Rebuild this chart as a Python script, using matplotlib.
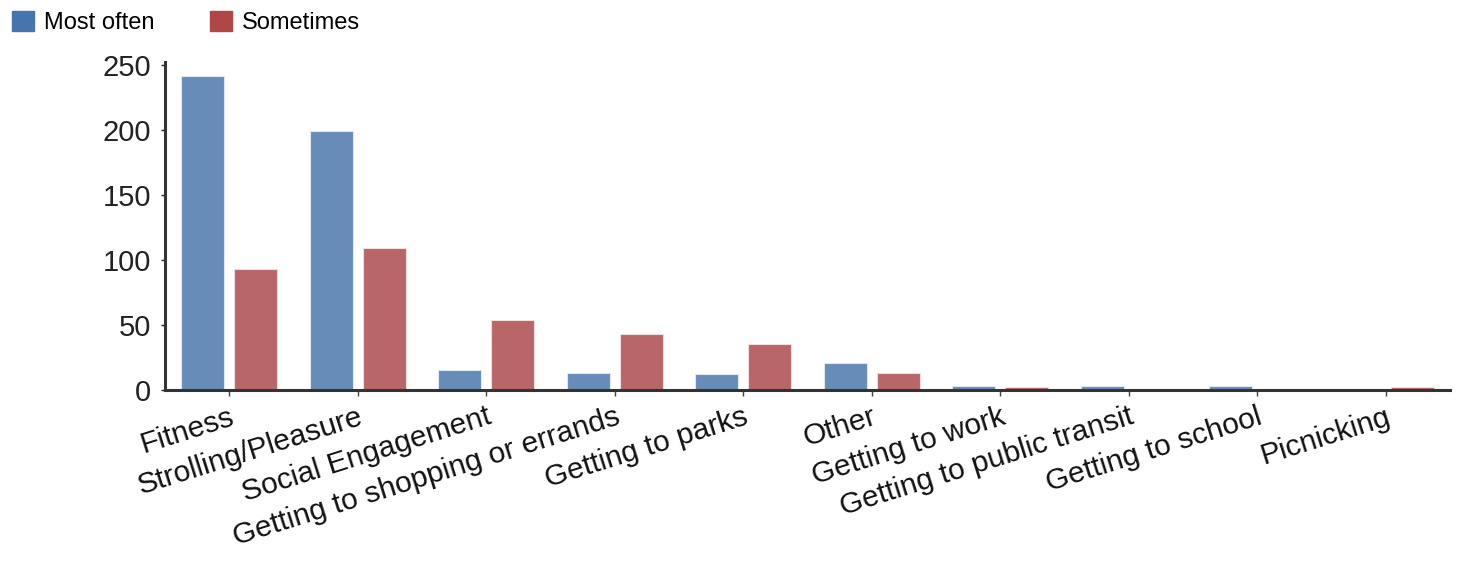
import matplotlib.pyplot as plt
import numpy as np
from matplotlib.patches import Patch

plt.rcParams['font.family'] = ['Liberation Sans', 'DejaVu Sans']

# Survey responses
categories = ['Fitness', 'Strolling/Pleasure', 'Social Engagement',
              'Getting to shopping or errands', 'Getting to parks', 'Other',
              'Getting to work', 'Getting to public transit',
              'Getting to school', 'Picnicking']
most_often = [241, 199, 15, 13, 12, 21, 3, 3, 3, 0]
sometimes = [93, 109, 54, 43, 35, 13, 2, 1, 0, 2]

fig = plt.figure(figsize=(14.62, 5.67), dpi=100)
ax = fig.add_axes([0.1129, 0.3122, 0.8789, 0.5785])

x = np.arange(len(categories))
w = 0.334
ax.bar(x - 0.206, most_often, w, color='#678cb7', edgecolor='#dfe8f2', linewidth=0.8)
ax.bar(x + 0.206, sometimes, w, color='#b86667', edgecolor='#f0dede', linewidth=0.8)

ax.set_xlim(-0.5, len(categories) - 0.5)
ax.set_ylim(0, 252)
ax.set_yticks([0, 50, 100, 150, 200, 250])
ax.tick_params(axis='y', labelsize=21, length=3, width=1, colors='#222222', pad=7)
ax.set_xticks(x)
ax.set_xticklabels(categories, rotation=17.5, ha='right', rotation_mode='anchor',
                   fontsize=21.5)
ax.tick_params(axis='x', length=4, width=1, colors='#444444', labelcolor='#111111',
               pad=5)

for s in ['top', 'right']:
    ax.spines[s].set_visible(False)
for s in ['left', 'bottom']:
    ax.spines[s].set_linewidth(2.2)
    ax.spines[s].set_color('#333333')

handles = [Patch(color='#4675ae', label='Most often'),
           Patch(color='#ae4745', label='Sometimes')]
fig.legend(handles=handles, loc='upper left', bbox_to_anchor=(-0.006, 1.018), ncol=2,
           frameon=False, fontsize=17, handlelength=0.9, handleheight=0.9,
           handletextpad=0.45, columnspacing=2.35)

fig.savefig('out.png', dpi=100)
